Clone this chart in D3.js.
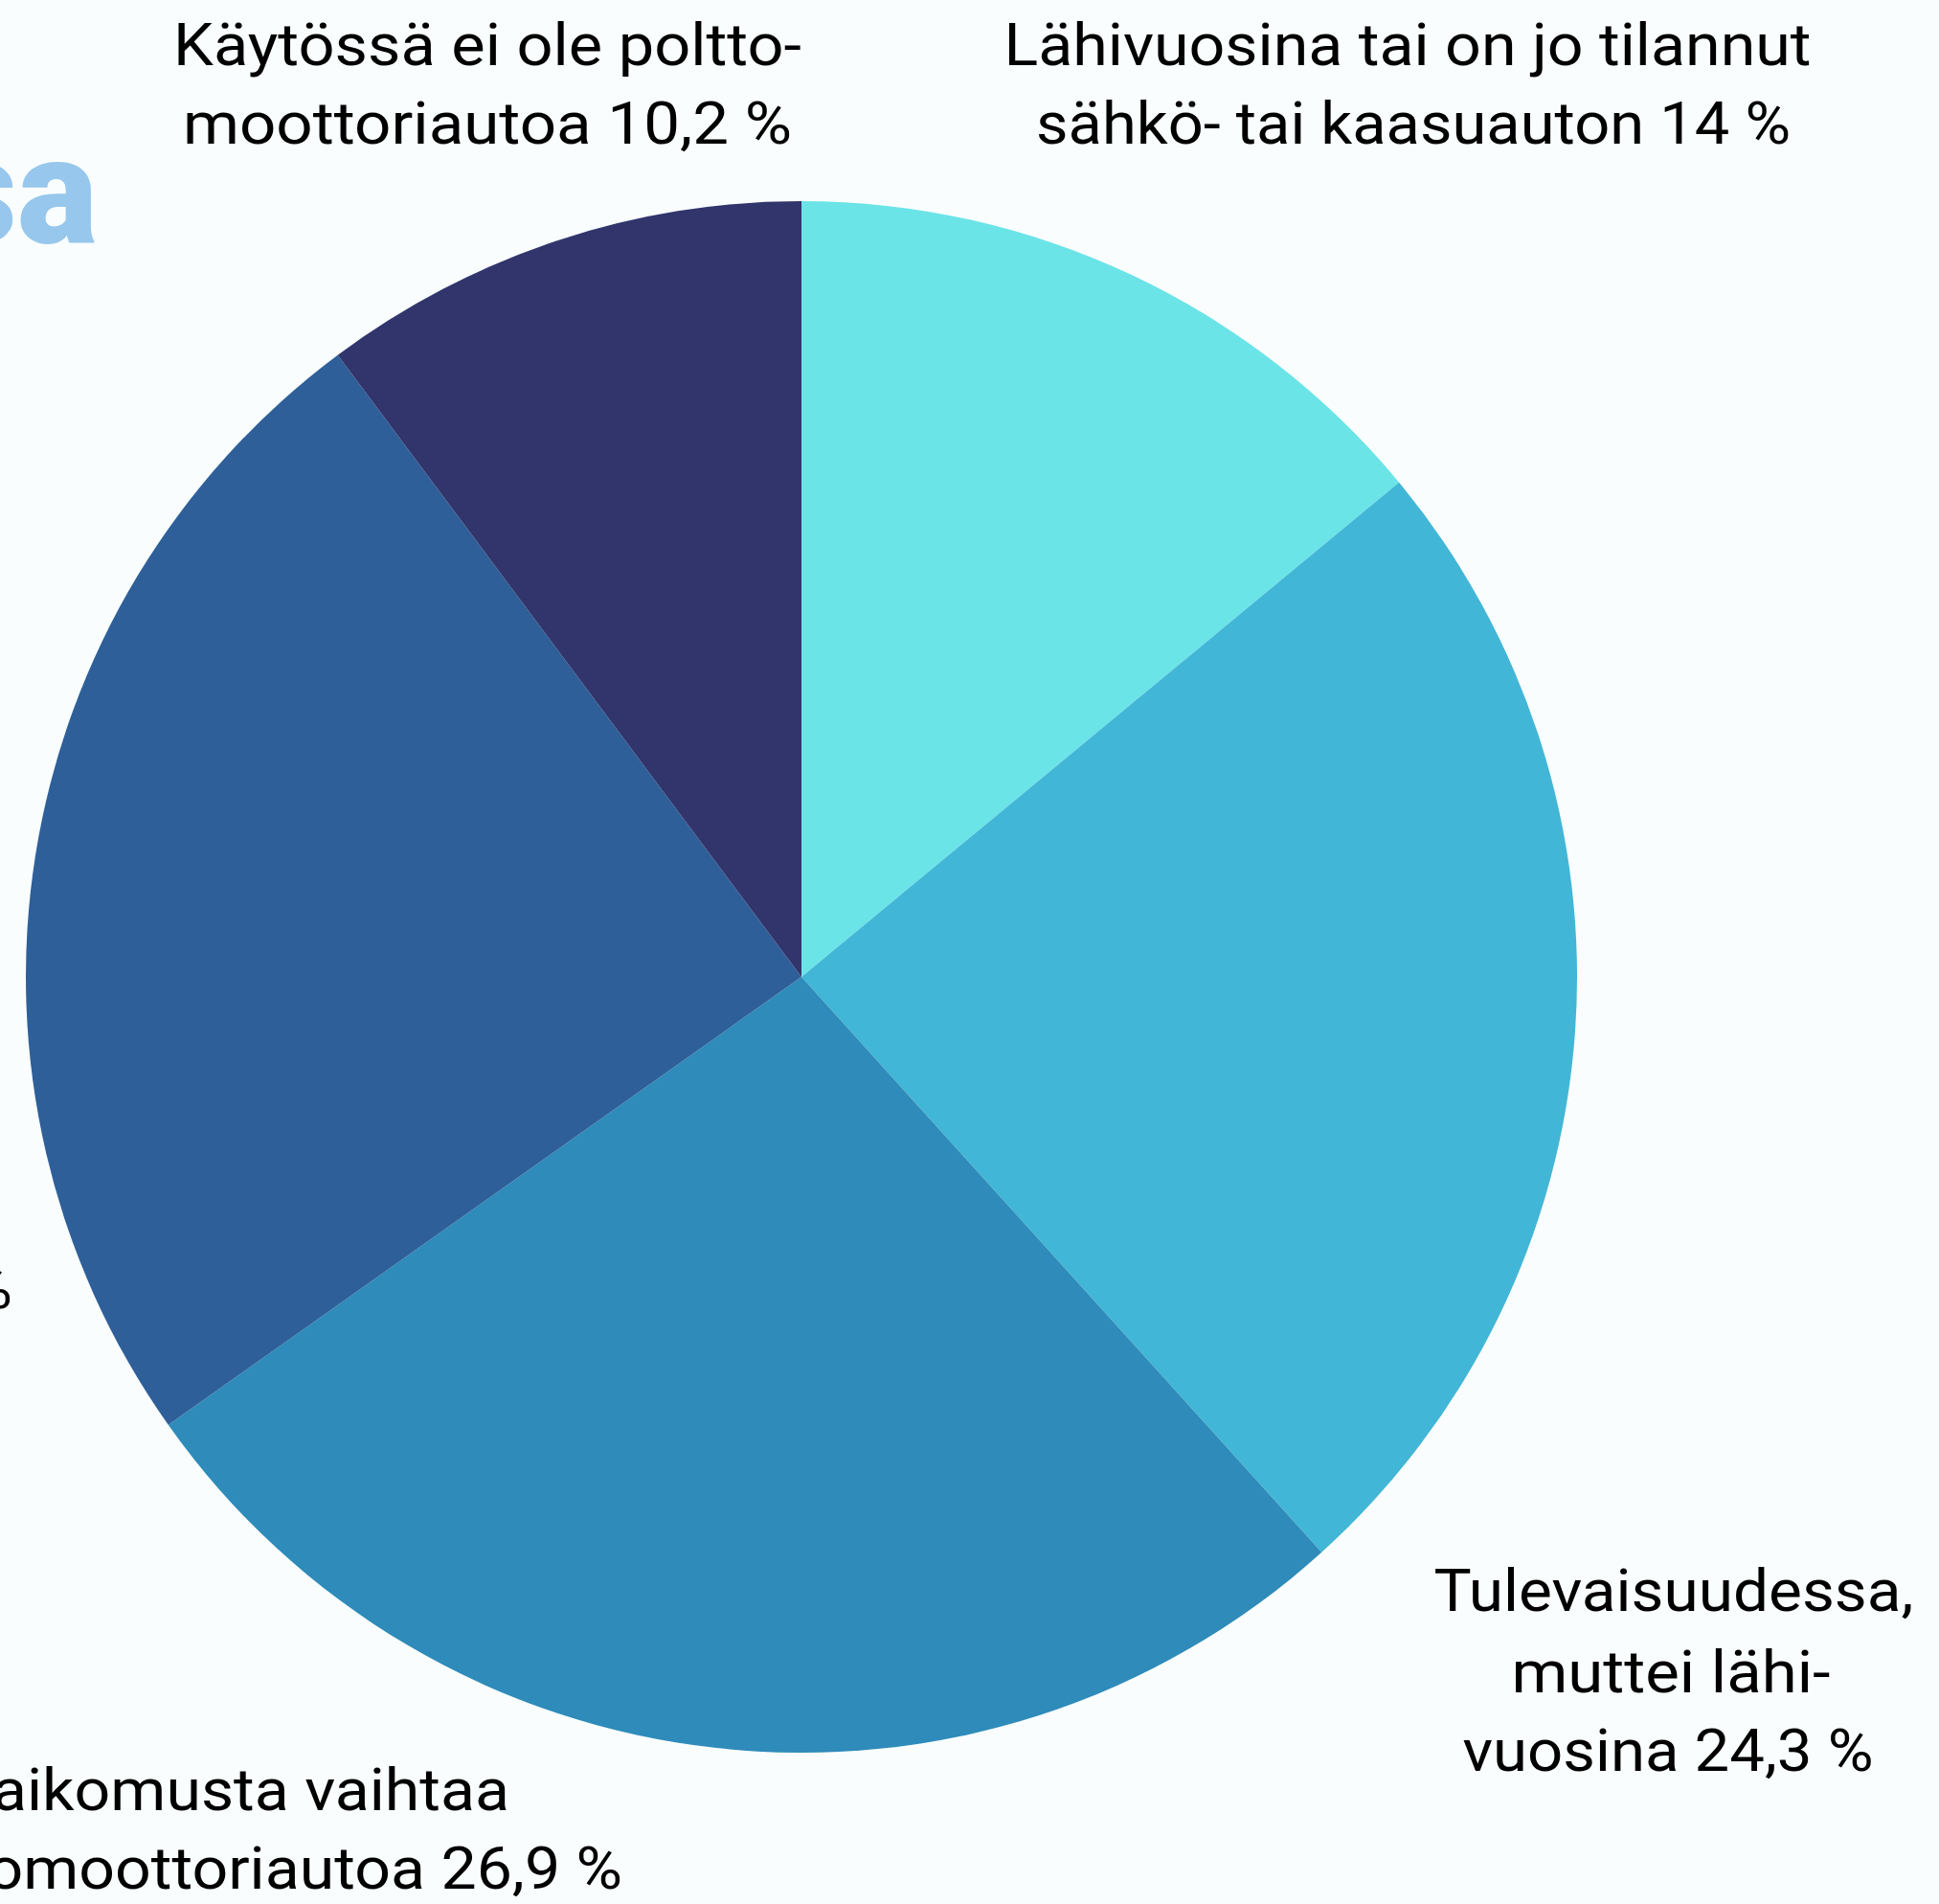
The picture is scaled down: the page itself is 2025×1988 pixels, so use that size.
<!DOCTYPE html>
<html><head><meta charset="utf-8">
<script src="https://cdn.jsdelivr.net/npm/d3@7"></script>
<style>html,body{margin:0;padding:0;background:#F9FDFD;overflow:hidden}</style>
</head><body>
<svg id="chart" width="2025" height="1988"></svg>
<script>
// ---- data ----
const categories = [
  "Lähivuosina tai on jo tilannut sähkö- tai kaasuauton",
  "Tulevaisuudessa, muttei lähivuosina",
  "Ei aikomusta vaihtaa polttomoottoriautoa",
  "En osaa sanoa",
  "Käytössä ei ole polttomoottoriautoa"
];
const values = [14, 24.3, 26.9, 24.6, 10.2];
const labelLines = [
  ["Lähivuosina tai on jo tilannut", "sähkö- tai kaasuauton 14 %"],
  ["Tulevaisuudessa,", "muttei lähi-", "vuosina 24,3 %"],
  ["Ei aikomusta vaihtaa", "polttomoottoriautoa 26,9 %"],
  ["En osaa sanoa 24,6 %"],
  ["Käytössä ei ole poltto-", "moottoriautoa 10,2 %"]
];
const titleText = "sa";

// ---- styles / layout ----
const colors = ["#6BE4E8", "#42B6D6", "#2E8BBA", "#2E5F98", "#31356C"];
const W = 2025, H = 1988;
const cx = 837, cy = 1020, R = 810;
const fontFam = "Roboto, 'Noto Sans', sans-serif";
const fs = 62;
const labelLayout = [
  {anchor: "middle", x: [1470, 1476], y: [68, 150], w: [843, 788]},
  {anchor: "middle", x: [1748, 1745, 1742], y: [1682, 1767, 1849], w: [501, 333, 429]},
  {anchor: "end", x: [532, 650], y: [1890, 1972], w: [null, null]},
  {anchor: "end", x: [13], y: [1366], w: [null]},
  {anchor: "middle", x: [509, 509], y: [68, 150], w: [656, 636]}
];

const svg = d3.select("#chart");
svg.append("rect").attr("width", W).attr("height", H).attr("fill", "#F9FDFD");

// title fragment
svg.append("text")
  .attr("x", 102).attr("y", 253)
  .attr("text-anchor", "end")
  .attr("font-family", fontFam)
  .attr("font-weight", 900)
  .attr("font-size", 158)
  .attr("fill", "#97C7EC")
  .text(titleText);

const pie = d3.pie().sort(null).value(d => d)(values);
const arc = d3.arc().innerRadius(0).outerRadius(R);
svg.append("g").attr("transform", `translate(${cx},${cy})`)
  .selectAll("path").data(pie).join("path")
  .attr("d", arc)
  .attr("fill", (d, i) => colors[i]);

// labels
const ratios = [];
const clipped = [];
labelLines.forEach((lines, i) => {
  const L = labelLayout[i];
  lines.forEach((t, j) => {
    const el = svg.append("text")
      .attr("x", L.x[j]).attr("y", L.y[j])
      .attr("text-anchor", L.anchor)
      .attr("font-family", fontFam)
      .attr("font-size", fs)
      .attr("fill", "#000")
      .text(t);
    const nat = el.node().getComputedTextLength();
    if (L.w[j]) {
      ratios.push(L.w[j] / nat);
      el.attr("textLength", L.w[j]).attr("lengthAdjust", "spacingAndGlyphs");
    } else {
      clipped.push([el, nat]);
    }
  });
});
const avgRatio = d3.mean(ratios);
clipped.forEach(([el, nat]) => {
  el.attr("textLength", nat * avgRatio).attr("lengthAdjust", "spacingAndGlyphs");
});
</script>
</body></html>
